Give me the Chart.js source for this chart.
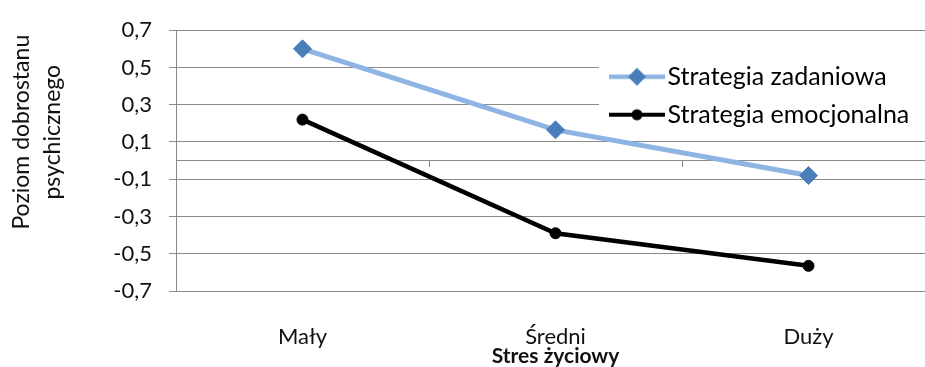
<!DOCTYPE html>
<html><head><meta charset="utf-8">
<script src="https://cdn.jsdelivr.net/npm/chart.js@4/dist/chart.umd.min.js"></script>
<style>
html,body{margin:0;padding:0;background:#fff;overflow:hidden;width:925px;height:367px;}
#wrap{position:absolute;left:0;top:0;width:945px;height:367px;}
</style></head><body>
<div id="wrap"><canvas id="c" width="945" height="367"></canvas></div>
<script>
const categories = ['Mały', 'Średni', 'Duży'];
const seriesNames = ['Strategia zadaniowa', 'Strategia emocjonalna'];
const zadaniowa = [0.60, 0.165, -0.08];
const emocjonalna = [0.22, -0.39, -0.565];
const yTickValues = [-0.7, -0.5, -0.3, -0.1, 0.1, 0.3, 0.5, 0.7];
const yTitle = ['Poziom dobrostanu', 'psychicznego'];
const xTitle = 'Stres życiowy';

const FONT = 'Lato';
const TEXT = '#111';
const GRID = '#8a8a8a';
const BLUE_LINE = '#8DB4E2';
const BLUE_MARK = '#4A7EBB';

function legendSymbol(lineColor, lineWidth, markerColor, shape) {
  const c = document.createElement('canvas');
  c.width = 56; c.height = 22;
  const g = c.getContext('2d');
  g.strokeStyle = lineColor; g.lineWidth = lineWidth;
  g.beginPath(); g.moveTo(0, 11); g.lineTo(56, 11); g.stroke();
  g.fillStyle = markerColor;
  g.beginPath();
  if (shape === 'diamond') {
    g.moveTo(19, 11); g.lineTo(28, 2); g.lineTo(37, 11); g.lineTo(28, 20); g.closePath();
  } else {
    g.arc(28, 11, 5.5, 0, Math.PI * 2);
  }
  g.fill();
  return c;
}
const symbols = [
  legendSymbol(BLUE_LINE, 4.5, BLUE_MARK, 'diamond'),
  legendSymbol('#000', 4, '#000', 'circle')
];

const legendPlace = {
  id: 'legendPlace',
  afterLayout(chart) {
    const lg = chart.legend, ca = chart.chartArea;
    const w = lg.width;
    lg.left = ca.left + 430;
    lg.top = ca.top + 21;
    lg.right = lg.left + w;
    lg.bottom = lg.top + 200;
  }
};
const legendBg = {
  id: 'legendBg',
  beforeDatasetsDraw(chart) {
    const lg = chart.legend, ca = chart.chartArea, ctx = chart.ctx;
    ctx.save();
    ctx.fillStyle = '#fff';
    ctx.fillRect(lg.left - 7, lg.top + 4, ca.right - lg.left + 7, 80);
    ctx.restore();
    lg.draw(ca);
  }
};
const yTitlePlugin = {
  id: 'yTitlePlugin',
  afterDraw(chart) {
    const ctx = chart.ctx, ca = chart.chartArea;
    ctx.save();
    ctx.font = '23px ' + FONT;
    ctx.fillStyle = TEXT;
    ctx.textAlign = 'center';
    ctx.textBaseline = 'middle';
    const cy = ca.top + 102;
    const xs = [22, 53];
    yTitle.forEach((t, i) => {
      ctx.save();
      ctx.translate(xs[i], cy);
      ctx.rotate(-Math.PI / 2);
      ctx.fillText(t, 0, 0);
      ctx.restore();
    });
    ctx.restore();
  }
};

new Chart(document.getElementById('c'), {
  type: 'line',
  data: {
    labels: categories,
    datasets: [
      { label: seriesNames[0], data: zadaniowa, borderColor: BLUE_LINE, borderWidth: 5,
        pointStyle: 'rectRot', pointRadius: 9, pointBackgroundColor: BLUE_MARK,
        pointBorderColor: BLUE_MARK, pointBorderWidth: 1, tension: 0, fill: false },
      { label: seriesNames[1], data: emocjonalna, borderColor: '#000', borderWidth: 4.5,
        pointStyle: 'circle', pointRadius: 5.5, pointBackgroundColor: '#000',
        pointBorderColor: '#000', pointBorderWidth: 1, tension: 0, fill: false }
    ]
  },
  options: {
    responsive: false,
    animation: false,
    devicePixelRatio: 1,
    layout: { padding: { left: 0, top: 25, right: 7, bottom: 0 } },
    plugins: {
      tooltip: { enabled: false },
      legend: {
        position: 'chartArea',
        align: 'start',
        labels: {
          usePointStyle: true,
          pointStyleWidth: 36,
          padding: 13,
          color: '#000',
          font: { family: FONT, size: 25 },
          generateLabels: (chart) => chart.data.datasets.map((ds, i) => ({
            text: ds.label, pointStyle: symbols[i], fillStyle: ds.borderColor,
            strokeStyle: ds.borderColor, lineWidth: 0, hidden: false, datasetIndex: i
          }))
        }
      }
    },
    scales: {
      x: {
        type: 'category', position: 'bottom', offset: true,
        grid: { display: false, drawTicks: false },
        border: { display: false },
        ticks: { padding: 33, font: { family: FONT, size: 22 }, color: TEXT, maxRotation: 0, autoSkip: false },
        title: { display: true, text: xTitle, color: TEXT, padding: 0,
                 font: { family: FONT, size: 21, weight: 'bold', lineHeight: 1 } },
        afterFit(s) { s.height = 76; }
      },
      x0: {
        type: 'category', axis: 'x', position: { y: 0 }, offset: true,
        grid: { offset: true, drawOnChartArea: false, drawTicks: true, tickLength: 6, color: GRID, lineWidth: 1 },
        border: { display: true, color: GRID, width: 1 },
        ticks: { display: false }
      },
      y: {
        min: -0.7, max: 0.7,
        afterBuildTicks(s) { s.ticks = yTickValues.map(v => ({ value: v })); },
        grid: { color: GRID, lineWidth: 1, tickLength: 7, drawTicks: true },
        border: { display: true, color: GRID, width: 1 },
        ticks: { padding: 17, font: { family: FONT, size: 22 }, color: TEXT,
                 callback: (v) => Number(v).toFixed(1).replace('.', ',') },
        afterFit(s) { s.width = 176; }
      }
    }
  },
  plugins: [legendPlace, legendBg, yTitlePlugin]
});
</script>
</body></html>
